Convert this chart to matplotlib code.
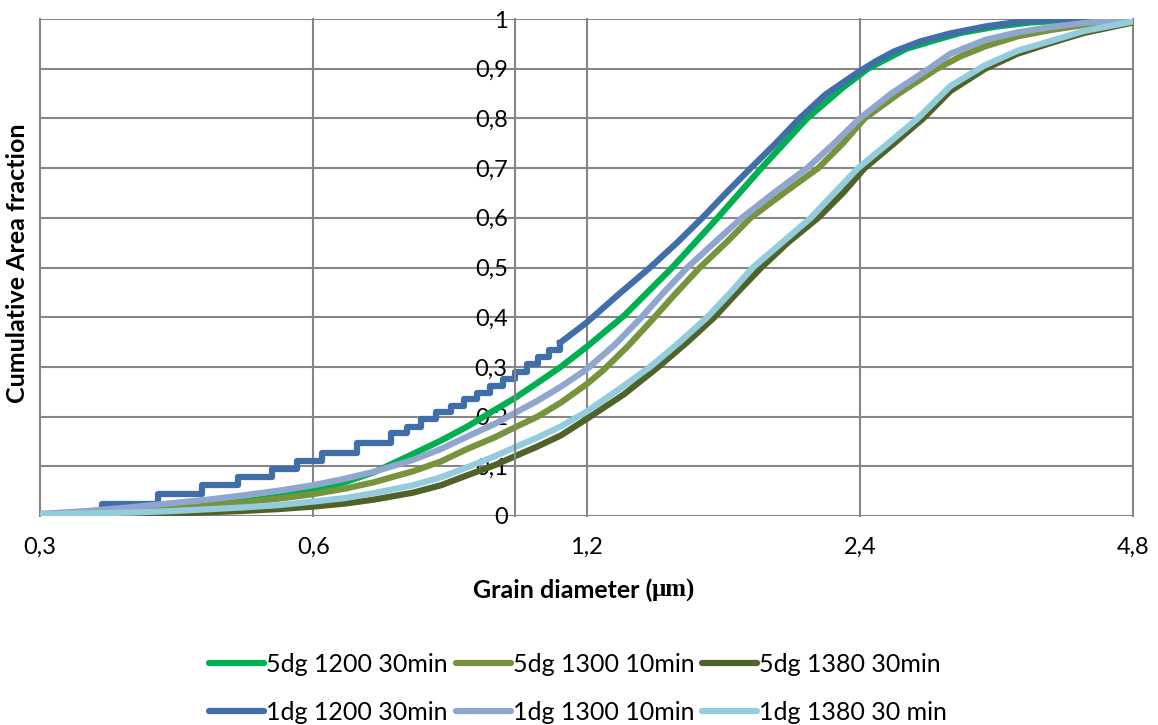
import matplotlib
matplotlib.use("Agg")
import matplotlib.pyplot as plt
from matplotlib.ticker import FixedLocator, NullLocator, FixedFormatter

# ---------------- data ----------------
x_ticks = [0.3, 0.6, 1.2, 2.4, 4.8]
x_tick_labels = ["0,3", "0,6", "1,2", "2,4", "4,8"]
y_ticks = [0, 0.1, 0.2, 0.3, 0.4, 0.5, 0.6, 0.7, 0.8, 0.9, 1.0]
y_tick_labels = ["0", "0,1", "0,2", "0,3", "0,4", "0,5", "0,6", "0,7", "0,8", "0,9", "1"]

labels = ["5dg 1200 30min", "5dg 1300 10min", "5dg 1380 30min",
          "1dg 1200 30min", "1dg 1300 10min", "1dg 1380 30 min"]

g1200_x = [0.3, 0.34, 0.38, 0.42, 0.46, 0.5, 0.55, 0.6, 0.65, 0.7, 0.773, 0.83, 0.887, 0.95,
           1.0, 1.06, 1.124, 1.2, 1.32, 1.49, 1.67, 1.87, 2.1, 2.3, 2.45, 2.7, 2.9, 3.1, 3.4,
           3.7, 4.2, 4.8]
g1200_y = [0.003, 0.006, 0.01, 0.016, 0.022, 0.029, 0.039, 0.052, 0.068, 0.088, 0.125, 0.152, 0.18, 0.213,
           0.237, 0.268, 0.30, 0.34, 0.403, 0.499, 0.598, 0.70, 0.80, 0.862, 0.90, 0.94, 0.957, 0.972, 0.985,
           0.993, 0.999, 1.0]

g1300_x = [0.3, 0.38, 0.42, 0.46, 0.5, 0.55, 0.6, 0.65, 0.7, 0.773, 0.83, 0.887, 0.95, 1.0,
           1.06, 1.124, 1.2, 1.25, 1.33, 1.41, 1.5, 1.6, 1.71, 1.82, 1.98, 2.16, 2.3, 2.43,
           2.65, 2.92, 3.1, 3.3, 3.58, 3.9, 4.24, 4.6, 4.8]
g1300_y = [0.003, 0.01, 0.016, 0.021, 0.027, 0.035, 0.044, 0.055, 0.068, 0.09, 0.11, 0.135, 0.158, 0.178,
           0.20, 0.228, 0.265, 0.292, 0.34, 0.39, 0.445, 0.50, 0.55, 0.60, 0.65, 0.70, 0.75, 0.80,
           0.85, 0.90, 0.925, 0.945, 0.965, 0.978, 0.988, 0.996, 1.0]

g1380_x = [0.3, 0.38, 0.42, 0.5, 0.55, 0.6, 0.65, 0.7, 0.773, 0.83, 0.887, 0.95, 1.0, 1.06,
           1.124, 1.2, 1.32, 1.44, 1.55, 1.66, 1.76, 1.87, 2.0, 2.16, 2.3, 2.43, 2.62, 2.82,
           3.02, 3.3, 3.58, 3.9, 4.24, 4.8]
g1380_y = [0.002, 0.004, 0.005, 0.01, 0.014, 0.019, 0.025, 0.033, 0.047, 0.062, 0.082, 0.102, 0.12, 0.14,
           0.162, 0.195, 0.245, 0.30, 0.35, 0.40, 0.45, 0.50, 0.55, 0.60, 0.65, 0.70, 0.75, 0.80,
           0.855, 0.90, 0.93, 0.952, 0.972, 0.993]

# 1dg 1200: visible staircase at small diameters, then smooth
b1200_step_x = [0.30, 0.351, 0.405, 0.452, 0.496, 0.541, 0.576, 0.614, 0.671, 0.730, 0.761, 0.789,
                0.820, 0.850, 0.880, 0.910, 0.940, 0.972, 1.002, 1.033, 1.062, 1.092, 1.123]
b1200_step_y = [0.004, 0.024, 0.044, 0.062, 0.079, 0.095, 0.110, 0.126, 0.147, 0.167, 0.180, 0.196,
                0.210, 0.222, 0.236, 0.248, 0.262, 0.276, 0.290, 0.305, 0.320, 0.334, 0.349]
b1200_x = [1.123, 1.2, 1.3, 1.41, 1.51, 1.61, 1.71, 1.82, 1.94, 2.06, 2.2, 2.39, 2.5, 2.62,
           2.8, 3.02, 3.3, 3.58, 3.9, 4.2, 4.8]
b1200_y = [0.349, 0.389, 0.445, 0.50, 0.55, 0.60, 0.65, 0.70, 0.75, 0.80, 0.848, 0.893, 0.915, 0.935,
           0.955, 0.971, 0.985, 0.994, 0.999, 1.0, 1.0]

b1300_x = [0.3, 0.338, 0.38, 0.42, 0.46, 0.5, 0.55, 0.6, 0.65, 0.7, 0.773, 0.83, 0.887, 0.95,
           1.0, 1.06, 1.124, 1.2, 1.29, 1.38, 1.46, 1.55, 1.66, 1.78, 1.93, 2.1, 2.25, 2.4,
           2.6, 2.86, 3.02, 3.3, 3.58, 3.9, 4.24, 4.6, 4.8]
b1300_y = [0.004, 0.01, 0.018, 0.026, 0.033, 0.041, 0.051, 0.062, 0.075, 0.089, 0.113, 0.135, 0.16, 0.185,
           0.207, 0.232, 0.26, 0.295, 0.345, 0.40, 0.45, 0.50, 0.55, 0.60, 0.65, 0.70, 0.75, 0.80,
           0.85, 0.90, 0.93, 0.958, 0.973, 0.984, 0.992, 0.998, 1.0]

b1380_x = [0.3, 0.38, 0.42, 0.5, 0.55, 0.6, 0.65, 0.7, 0.773, 0.83, 0.887, 0.95, 1.0, 1.06,
           1.124, 1.2, 1.31, 1.41, 1.52, 1.63, 1.73, 1.83, 1.97, 2.12, 2.25, 2.39, 2.58, 2.78,
           3.02, 3.29, 3.58, 3.9, 4.24, 4.8]
b1380_y = [0.003, 0.007, 0.01, 0.017, 0.022, 0.029, 0.036, 0.046, 0.062, 0.078, 0.098, 0.12, 0.138, 0.158,
           0.18, 0.21, 0.258, 0.30, 0.35, 0.40, 0.45, 0.50, 0.55, 0.60, 0.65, 0.70, 0.75, 0.80,
           0.865, 0.906, 0.936, 0.956, 0.976, 0.995]

colors = ["#00B050", "#77933C", "#4F6228", "#3F6EA8", "#8FA6CE", "#93CDDD"]

# ---------------- figure ----------------
FONT = ["Lato", "DejaVu Sans"]
plt.rcParams["font.family"] = FONT

fig = plt.figure(figsize=(11.58, 7.25), dpi=100)
ax = fig.add_axes([40 / 1158, 209 / 725, 1093 / 1158, 497 / 725])

ax.set_xscale("log", base=2)
ax.set_xlim(0.3, 4.8)
ax.set_ylim(0, 1)

grid_c = "#868686"
ax.xaxis.set_major_locator(FixedLocator(x_ticks))
ax.xaxis.set_major_formatter(FixedFormatter(x_tick_labels))
ax.xaxis.set_minor_locator(NullLocator())
ax.yaxis.set_major_locator(FixedLocator(y_ticks))
ax.yaxis.set_major_formatter(FixedFormatter(y_tick_labels))
ax.grid(True, color=grid_c, linewidth=1.5)
ax.set_axisbelow(True)
for gl in ax.get_xgridlines() + ax.get_ygridlines():
    gl.set_clip_on(False)

for s in ["top", "right", "bottom"]:
    ax.spines[s].set_visible(False)
ax.spines["left"].set_position(("data", 1.0))
ax.spines["left"].set_color(grid_c)
ax.spines["left"].set_linewidth(1.5)

ax.tick_params(axis="x", length=0, pad=15, labelsize=17)
ax.tick_params(axis="y", length=0, pad=5, labelsize=17)

lw = 4.5
handles = []
h, = ax.plot(g1200_x, g1200_y, color=colors[0], lw=lw, label=labels[0]); handles.append(h)
h, = ax.plot(g1300_x, g1300_y, color=colors[1], lw=lw, label=labels[1]); handles.append(h)
h, = ax.plot(g1380_x, g1380_y, color=colors[2], lw=lw, label=labels[2]); handles.append(h)
ax.plot(b1200_step_x, b1200_step_y, color=colors[3], lw=lw, drawstyle="steps-post")
h, = ax.plot(b1200_x, b1200_y, color=colors[3], lw=lw, label=labels[3]); handles.append(h)
h, = ax.plot(b1300_x, b1300_y, color=colors[4], lw=lw, label=labels[4]); handles.append(h)
h, = ax.plot(b1380_x, b1380_y, color=colors[5], lw=lw, label=labels[5]); handles.append(h)

# x label: sans bold part + serif unit part
fig.text(652 / 1158, 1 - 590 / 725, "Grain diameter (", fontsize=18,
         fontweight="bold", ha="right", va="center")
fig.text(652 / 1158, 1 - 590 / 725, "μm)", fontsize=18, fontweight="bold",
         family=["Liberation Serif", "DejaVu Serif"], ha="left", va="center")
fig.text(18 / 1158, 1 - 263 / 725, "Cumulative Area fraction", rotation=90,
         fontsize=18, fontweight="bold", ha="center", va="center")

order = [0, 3, 1, 4, 2, 5]
leg = fig.legend([handles[i] for i in order], [labels[i] for i in order],
                 loc="center", bbox_to_anchor=(578 / 1158, 1 - 688 / 725), ncol=3,
                 frameon=False, fontsize=18, handlelength=2.2, handletextpad=0.08,
                 columnspacing=0.3, labelspacing=1.0)
for line in leg.get_lines():
    line.set_linewidth(4.5)
    line.set_solid_capstyle("round")

fig.savefig("out.png", dpi=100)
